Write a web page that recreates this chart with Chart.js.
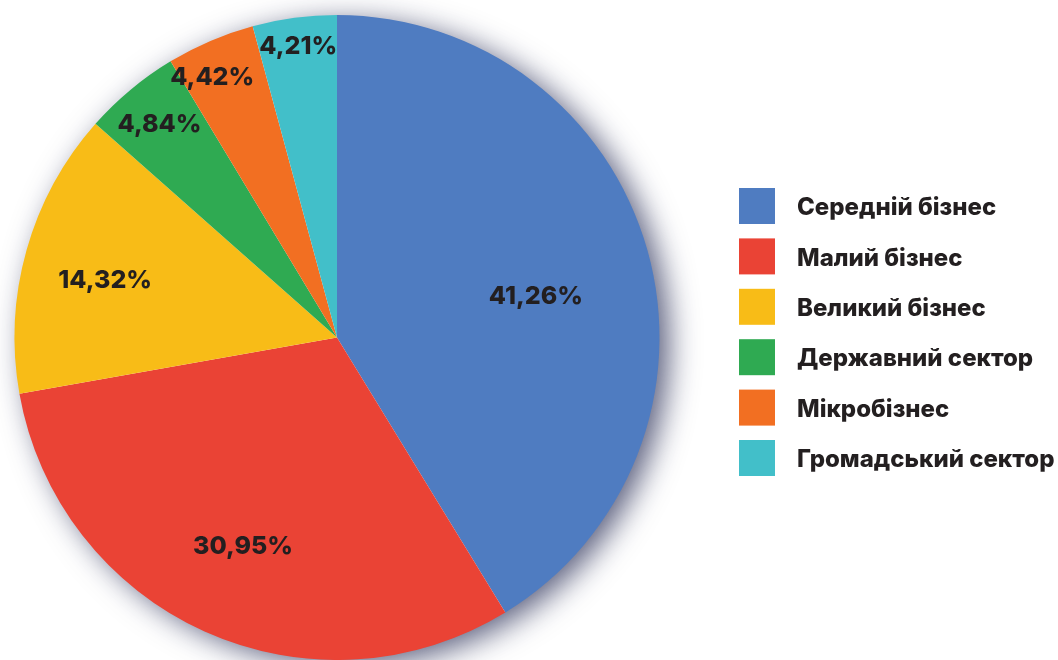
<!DOCTYPE html>
<html>
<head>
<meta charset="utf-8">
<script src="https://cdn.jsdelivr.net/npm/chart.js@4"></script>
<style>
  html, body { margin: 0; padding: 0; background: #fff; }
  #wrap { width: 1058px; height: 660px; position: relative; }
</style>
</head>
<body>
<div id="wrap"><canvas id="pie"></canvas></div>
<script>
const categories = ['Середній бізнес', 'Малий бізнес', 'Великий бізнес', 'Державний сектор', 'Мікробізнес', 'Громадський сектор'];
const shares = [41.26, 30.95, 14.32, 4.84, 4.42, 4.21];
const sliceColors = ['#4F7CC1', '#EA4335', '#F8BC17', '#2FAA52', '#F26F22', '#42BFC9'];

// where each % label sits: fraction of radius, and angle nudge in degrees
const labelRadius = [0.63, 0.71, 0.74, 0.86, 0.895, 0.91];
const labelNudge = [4, 0, -2, 0, -2.5, 0];

const FONT = 'Inter, Lato, "Noto Sans", sans-serif';
const TEXT = '#231F20';

const pieShadow = {
  id: 'pieShadow',
  beforeDatasetsDraw(chart) {
    const arc = chart.getDatasetMeta(0).data[0];
    if (!arc) return;
    const ctx = chart.ctx;
    ctx.save();
    ctx.shadowColor = 'rgba(20, 25, 70, 0.7)';
    ctx.shadowBlur = 30;
    ctx.shadowOffsetX = 10;
    ctx.shadowOffsetY = 6;
    ctx.fillStyle = '#fff';
    ctx.beginPath();
    ctx.arc(arc.x, arc.y, arc.outerRadius - 1, 0, Math.PI * 2);
    ctx.fill();
    ctx.restore();
  }
};

const sliceLabels = {
  id: 'sliceLabels',
  afterDatasetsDraw(chart) {
    const ctx = chart.ctx;
    const arcs = chart.getDatasetMeta(0).data;
    ctx.save();
    ctx.font = '800 25px ' + FONT;
    ctx.fillStyle = TEXT;
    ctx.textAlign = 'center';
    ctx.textBaseline = 'middle';
    arcs.forEach((a, i) => {
      const mid = (a.startAngle + a.endAngle) / 2 + labelNudge[i] * Math.PI / 180;
      const r = a.outerRadius * labelRadius[i];
      const txt = shares[i].toFixed(2).replace('.', ',') + '%';
      ctx.fillText(txt, a.x + r * Math.cos(mid), a.y + r * Math.sin(mid));
    });
    ctx.restore();
  },
  afterDraw(chart) {
    const ctx = chart.ctx;
    ctx.save();
    ctx.font = '800 24px ' + FONT;
    ctx.textBaseline = 'middle';
    categories.forEach((c, i) => {
      const y = 188 + i * 50.4;
      ctx.fillStyle = sliceColors[i];
      ctx.fillRect(739, y, 36, 36);
      ctx.fillStyle = TEXT;
      ctx.fillText(c, 797, y + 20);
    });
    ctx.restore();
  }
};

new Chart(document.getElementById('pie'), {
  type: 'pie',
  data: {
    labels: categories,
    datasets: [{
      data: shares,
      backgroundColor: sliceColors,
      borderWidth: 0
    }]
  },
  options: {
    responsive: true,
    maintainAspectRatio: false,
    animation: false,
    layout: { padding: { left: 14, top: 15, right: 398, bottom: 0 } },
    plugins: {
      legend: { display: false },
      tooltip: { enabled: false }
    }
  },
  plugins: [pieShadow, sliceLabels]
});
</script>
</body>
</html>
